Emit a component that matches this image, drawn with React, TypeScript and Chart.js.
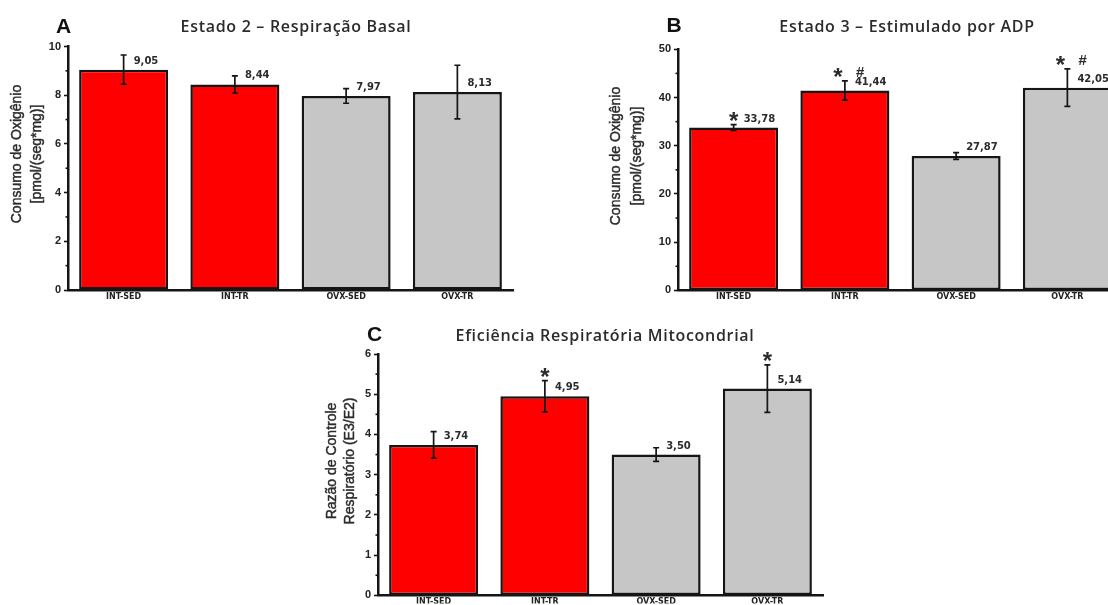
import React, { useEffect, useRef } from "react";
import { Chart, registerables } from "chart.js";

Chart.register(...registerables);

// ---------- data ----------
const categories = ["INT-SED", "INT-TR", "OVX-SED", "OVX-TR"];
const groupColors = ["#ff0000", "#ff0000", "#c6c6c6", "#c6c6c6"];

const basalValues = [9.05, 8.44, 7.97, 8.13];
const basalErrors = [0.6, 0.35, 0.3, 1.1];
const basalMarks: string[][] = [[], [], [], []];
const basalTicks = [0, 2, 4, 6, 8, 10];

const adpValues = [33.78, 41.44, 27.87, 42.05];
const adpErrors = [0.6, 2.0, 0.7, 3.9];
const adpMarks: string[][] = [["*"], ["*", "#"], [], ["*", "#"]];
const adpTicks = [0, 10, 20, 30, 40, 50];

const rcrValues = [3.74, 4.95, 3.5, 5.14];
const rcrErrors = [0.33, 0.39, 0.17, 0.59];
const rcrMarks: string[][] = [[], ["*"], [], ["*"]];
const rcrTicks = [0, 1, 2, 3, 4, 5, 6];

// ---------- layout ----------
type Panel = {
  letter: string;
  title: string;
  yTitle: string[];
  values: number[];
  errors: number[];
  marks: string[][];
  ticks: number[];
  box: { left: number; top: number; width: number; height: number };
  yWidth: number;
  xHeight: number;
  padTop: number;
  padRight: number;
  padBottom: number;
  letterPos: [number, number];
  titlePos: [number, number];
  yTitleX: [number, number];
  yTitleY: number;
};

const panels: Panel[] = [
  {
    letter: "A",
    title: "Estado 2 – Respiração Basal",
    yTitle: ["Consumo de Oxigênio", "[pmol/(seg*mg)]"],
    values: basalValues,
    errors: basalErrors,
    marks: basalMarks,
    ticks: basalTicks,
    box: { left: 0, top: 0, width: 545, height: 300 },
    yWidth: 68,
    xHeight: 10,
    padTop: 46.5,
    padRight: 32,
    padBottom: 0,
    letterPos: [63.5, 26],
    titlePos: [296, 28],
    yTitleX: [17, 37],
    yTitleY: 154,
  },
  {
    letter: "B",
    title: "Estado 3 – Estimulado por ADP",
    yTitle: ["Consumo de Oxigênio", "[pmol/(seg*mg)]"],
    values: adpValues,
    errors: adpErrors,
    marks: adpMarks,
    ticks: adpTicks,
    box: { left: 560, top: 0, width: 570, height: 300 },
    yWidth: 118,
    xHeight: 8.5,
    padTop: 49.3,
    padRight: 7,
    padBottom: 0,
    letterPos: [114, 25],
    titlePos: [347, 28],
    yTitleX: [56, 77],
    yTitleY: 156,
  },
  {
    letter: "C",
    title: "Eficiência Respiratória Mitocondrial",
    yTitle: ["Razão de Controle", "Respiratório (E3/E2)"],
    values: rcrValues,
    errors: rcrErrors,
    marks: rcrMarks,
    ticks: rcrTicks,
    box: { left: 300, top: 300, width: 545, height: 305 },
    yWidth: 78,
    xHeight: 8,
    padTop: 54,
    padRight: 22,
    padBottom: 0,
    letterPos: [74.5, 34.3],
    titlePos: [305, 36.7],
    yTitleX: [31.7, 50],
    yTitleY: 161,
  },
];

const INK = "#151515";
const TEXT = "#2b2b2b";

function drawCentered(
  ctx: CanvasRenderingContext2D,
  text: string,
  x: number,
  y: number,
  font: string,
  color: string,
  align: CanvasTextAlign = "center",
  spacing = 0
) {
  ctx.save();
  ctx.font = font;
  (ctx as any).letterSpacing = spacing + "px";
  ctx.fillStyle = color;
  ctx.textAlign = align;
  ctx.textBaseline = "alphabetic";
  const m = ctx.measureText(text);
  const off = (m.actualBoundingBoxAscent - m.actualBoundingBoxDescent) / 2;
  ctx.fillText(text, x, y + off);
  ctx.restore();
}

function makePlugin(p: Panel) {
  return {
    id: "panelDeco" + p.letter,
    afterDatasetsDraw(chart: any) {
      const ctx: CanvasRenderingContext2D = chart.ctx;
      const xs = chart.scales.x;
      const ys = chart.scales.y;
      ctx.save();
      ctx.strokeStyle = INK;
      ctx.lineWidth = 1.7;
      p.values.forEach((v, i) => {
        const cx = xs.getPixelForValue(i);
        const top = ys.getPixelForValue(v + p.errors[i]);
        const bot = ys.getPixelForValue(v - p.errors[i]);
        ctx.beginPath();
        ctx.moveTo(cx, top);
        ctx.lineTo(cx, bot);
        ctx.moveTo(cx - 3, top);
        ctx.lineTo(cx + 3, top);
        ctx.moveTo(cx - 3, bot);
        ctx.lineTo(cx + 3, bot);
        ctx.stroke();
      });
      ctx.restore();
    },
    afterDraw(chart: any) {
      const ctx: CanvasRenderingContext2D = chart.ctx;
      const xs = chart.scales.x;
      const ys = chart.scales.y;
      const area = chart.chartArea;

      // minor ticks
      ctx.save();
      ctx.strokeStyle = INK;
      ctx.lineWidth = 1.6;
      for (let k = 0; k < p.ticks.length - 1; k++) {
        const mv = (p.ticks[k] + p.ticks[k + 1]) / 2;
        const y = ys.getPixelForValue(mv);
        ctx.beginPath();
        ctx.moveTo(area.left - 2.5, y);
        ctx.lineTo(area.left, y);
        ctx.stroke();
      }
      ctx.restore();

      // panel letter & title
      drawCentered(ctx, p.letter, p.letterPos[0], p.letterPos[1], "bold 21px 'Liberation Sans'", "#111");
      drawCentered(ctx, p.title, p.titlePos[0], p.titlePos[1], "600 16px 'Open Sans'", TEXT, "center", 0.7);

      // y title
      ctx.save();
      ctx.font = "14px 'Liberation Sans'";
      ctx.fillStyle = TEXT;
      ctx.strokeStyle = TEXT;
      ctx.lineWidth = 0.45;
      ctx.textAlign = "center";
      ctx.textBaseline = "middle";
      p.yTitle.forEach((line, k) => {
        ctx.save();
        ctx.translate(p.yTitleX[k], p.yTitleY);
        ctx.rotate(-Math.PI / 2);
        ctx.fillText(line, 0, 0);
        ctx.strokeText(line, 0, 0);
        ctx.restore();
      });
      ctx.restore();

      // value labels and significance marks
      p.values.forEach((v, i) => {
        const cx = xs.getPixelForValue(i);
        const barTop = ys.getPixelForValue(v);
        const capTop = ys.getPixelForValue(v + p.errors[i]);
        const label = v.toFixed(2).replace(".", ",");
        drawCentered(ctx, label, cx + 10, barTop - 9, "bold 10px 'DejaVu Sans'", TEXT, "left");
        const marks = p.marks[i];
        const starFont = "bold 24px 'Liberation Sans'";
        if (marks.length === 1) {
          drawCentered(ctx, marks[0], cx, capTop - 8.5, starFont, TEXT);
        } else if (marks.length === 2) {
          drawCentered(ctx, marks[0], cx - 7, capTop - 8.5, starFont, TEXT);
          drawCentered(ctx, marks[1], cx + 15, capTop - 8.5, "bold italic 15px 'Liberation Sans'", TEXT);
        }
      });
    },
  };
}

function PanelChart({ p }: { p: Panel }) {
  const ref = useRef<HTMLCanvasElement | null>(null);
  useEffect(() => {
    if (!ref.current) return;
    const chart = new Chart(ref.current, {
      type: "bar",
      data: {
        labels: categories,
        datasets: [
          {
            data: p.values,
            backgroundColor: groupColors,
            borderColor: INK,
            borderWidth: 2.5,
            borderSkipped: false,
            barPercentage: 0.8,
            categoryPercentage: 1,
          },
        ],
      },
      options: {
        animation: false,
        responsive: false,
        maintainAspectRatio: false,
        events: [],
        layout: {
          padding: { left: 0, right: p.padRight, top: p.padTop, bottom: p.padBottom },
        },
        plugins: {
          legend: { display: false },
          tooltip: { enabled: false },
          title: { display: false },
        },
        scales: {
          x: {
            type: "category",
            offset: true,
            grid: { display: true, drawOnChartArea: false, drawTicks: false, color: INK },
            border: { display: true, color: INK, width: 2.5 },
            ticks: {
              font: { family: "'DejaVu Sans'", size: 8, weight: "bold" },
              color: "#222",
              padding: 2,
              maxRotation: 0,
              autoSkip: false,
            },
            afterFit: (s: any) => {
              s.height = p.xHeight;
            },
          },
          y: {
            type: "linear",
            min: p.ticks[0],
            max: p.ticks[p.ticks.length - 1],
            afterBuildTicks: (s: any) => {
              s.ticks = p.ticks.map((v) => ({ value: v }));
            },
            grid: {
              display: true,
              drawOnChartArea: false,
              drawTicks: true,
              tickLength: 4,
              tickWidth: 1.6,
              color: INK,
            },
            border: { display: true, color: INK, width: 2.5 },
            ticks: {
              font: { family: "'Liberation Sans'", size: 11, weight: "bold" },
              color: "#222",
              padding: 3,
            },
            afterFit: (s: any) => {
              s.width = p.yWidth;
            },
          },
        },
      },
      plugins: [makePlugin(p)],
    } as any);
    let alive = true;
    if ((document as any).fonts && (document as any).fonts.ready) {
      (document as any).fonts.ready.then(() => {
        if (alive) chart.draw();
      });
    }
    return () => {
      alive = false;
      chart.destroy();
    };
  }, [p]);
  return (
    <canvas
      ref={ref}
      width={p.box.width}
      height={p.box.height}
      style={{
        position: "absolute",
        left: p.box.left,
        top: p.box.top,
        width: p.box.width,
        height: p.box.height,
      }}
    />
  );
}

export default function App() {
  return (
    <div
      style={{
        position: "fixed",
        left: 0,
        top: 0,
        width: 1108,
        height: 605,
        overflow: "hidden",
        background: "#ffffff",
      }}
    >
      {panels.map((p) => (
        <PanelChart key={p.letter} p={p} />
      ))}
    </div>
  );
}
